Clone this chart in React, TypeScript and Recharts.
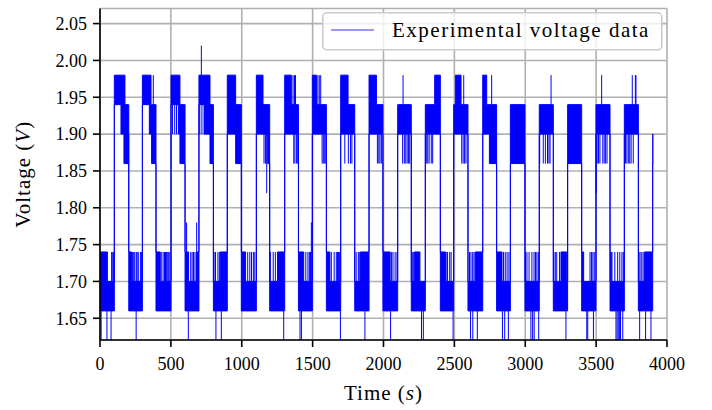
import React from 'react';
import { ComposedChart, Area, Line, XAxis, YAxis, CartesianGrid } from 'recharts';

const X_TICKS = [0, 500, 1000, 1500, 2000, 2500, 3000, 3500, 4000];
const Y_TICKS = [1.65, 1.7, 1.75, 1.8, 1.85, 1.9, 1.95, 2.0, 2.05];
const SERIES_NAME = 'Experimental voltage data';
const END_TIME = 3904;

// [start time (s), lower level (V), upper level (V)]: the reading toggles rapidly
// between the two quantised levels from this start until the next start.
const segments: [number, number, number][] = [
  [0, 1.66, 1.74], [52, 1.66, 1.70],
  [101, 1.94, 1.98], [148, 1.90, 1.98], [169, 1.86, 1.98], [176, 1.86, 1.94], [200, 1.90, 1.94],
  [203, 1.66, 1.74], [222, 1.66, 1.70],
  [299, 1.94, 1.98], [348, 1.90, 1.98], [360, 1.90, 1.94], [364, 1.86, 1.94],
  [395, 1.66, 1.74], [425, 1.66, 1.70],
  [501, 1.94, 1.98], [553, 1.90, 1.98], [564, 1.86, 1.94],
  [600, 1.66, 1.74], [625, 1.66, 1.70], [680, 1.66, 1.74],
  [698, 1.94, 1.98], [734, 1.90, 1.98], [776, 1.86, 1.94],
  [800, 1.66, 1.70], [848, 1.66, 1.74],
  [898, 1.90, 1.98], [957, 1.86, 1.94],
  [997, 1.66, 1.74], [1027, 1.66, 1.70],
  [1103, 1.90, 1.98], [1150, 1.90, 1.94], [1185, 1.86, 1.94],
  [1197, 1.66, 1.70], [1252, 1.66, 1.74],
  [1303, 1.90, 1.98], [1347, 1.90, 1.94],
  [1400, 1.66, 1.74], [1437, 1.66, 1.70],
  [1498, 1.90, 1.98], [1527, 1.90, 1.94],
  [1597, 1.66, 1.74], [1622, 1.66, 1.70],
  [1698, 1.90, 1.98], [1750, 1.90, 1.94],
  [1797, 1.66, 1.70], [1837, 1.66, 1.74],
  [1898, 1.90, 1.98], [1950, 1.90, 1.94],
  [1996, 1.66, 1.74], [2047, 1.66, 1.70],
  [2100, 1.90, 1.94],
  [2196, 1.66, 1.70], [2217, 1.66, 1.74], [2257, 1.66, 1.70],
  [2295, 1.90, 1.94], [2361, 1.90, 1.98],
  [2401, 1.66, 1.74], [2437, 1.66, 1.70],
  [2495, 1.90, 1.94], [2507, 1.90, 1.98], [2547, 1.90, 1.94],
  [2596, 1.66, 1.70], [2647, 1.66, 1.74],
  [2700, 1.90, 1.98], [2728, 1.90, 1.94], [2747, 1.86, 1.94],
  [2798, 1.66, 1.74], [2836, 1.66, 1.70],
  [2895, 1.86, 1.94],
  [2998, 1.66, 1.70],
  [3099, 1.90, 1.94],
  [3198, 1.66, 1.70], [3252, 1.66, 1.74], [3292, 1.66, 1.70],
  [3299, 1.86, 1.94],
  [3398, 1.66, 1.74], [3412, 1.66, 1.70],
  [3499, 1.90, 1.94],
  [3598, 1.66, 1.70],
  [3699, 1.90, 1.94],
  [3798, 1.66, 1.70], [3842, 1.66, 1.74],
  [3899, 1.86, 1.90],
];

// Isolated excursions during the low phases [time (s), level (V)]
const lowPhaseSpikes: [number, number][] = [
  [8, 1.62], [49, 1.62], [78, 1.62], [82, 1.74], [90, 1.74], [96, 1.74],
  [230, 1.74], [238, 1.74], [245, 1.74], [255, 1.62], [256, 1.74], [262, 1.74], [270, 1.74], [285, 1.74], [292, 1.74],
  [432, 1.74], [445, 1.74], [455, 1.74], [462, 1.74], [470, 1.74], [478, 1.74], [485, 1.74], [493, 1.74],
  [611, 1.78], [623, 1.62], [640, 1.74], [650, 1.74], [660, 1.74], [670, 1.74], [682, 1.78],
  [805, 1.74], [815, 1.74], [818, 1.62], [832, 1.74], [842, 1.74], [856, 1.62],
  [1042, 1.74], [1057, 1.74], [1069, 1.74], [1082, 1.74], [1092, 1.74],
  [1202, 1.74], [1222, 1.74], [1237, 1.74], [1296, 1.62],
  [1411, 1.62], [1421, 1.62], [1452, 1.74], [1467, 1.74], [1477, 1.74], [1485, 1.74], [1491, 1.78],
  [1632, 1.74], [1652, 1.74], [1667, 1.74], [1675, 1.74], [1682, 1.74], [1689, 1.74], [1696, 1.62],
  [1807, 1.74], [1822, 1.74], [1829, 1.74], [1869, 1.62],
  [2050, 1.62], [2057, 1.74], [2067, 1.74], [2082, 1.74], [2095, 1.74],
  [2203, 1.74], [2210, 1.74], [2268, 1.62], [2281, 1.62],
  [2442, 1.74], [2452, 1.74], [2467, 1.74], [2477, 1.74], [2491, 1.62],
  [2607, 1.74], [2614, 1.62], [2617, 1.74], [2629, 1.74], [2630, 1.62], [2639, 1.74], [2662, 1.62],
  [2839, 1.62], [2847, 1.74], [2855, 1.62], [2859, 1.74], [2872, 1.74], [2881, 1.62], [2885, 1.74],
  [3002, 1.74], [3012, 1.74], [3027, 1.74], [3040, 1.62], [3047, 1.74], [3052, 1.62], [3062, 1.74], [3063, 1.62], [3072, 1.74], [3082, 1.74], [3092, 1.74], [3095, 1.62],
  [3202, 1.74], [3212, 1.74], [3222, 1.74], [3242, 1.74], [3287, 1.62],
  [3434, 1.62], [3441, 1.62], [3457, 1.74], [3467, 1.74], [3477, 1.74], [3481, 1.62], [3487, 1.74],
  [3602, 1.74], [3607, 1.74], [3612, 1.74], [3632, 1.74], [3640, 1.62], [3648, 1.62], [3652, 1.74], [3656, 1.62], [3664, 1.62], [3667, 1.74], [3672, 1.62], [3682, 1.74], [3688, 1.62], [3692, 1.74],
  [3802, 1.74], [3807, 1.62], [3810, 1.74], [3822, 1.74], [3832, 1.74], [3849, 1.62], [3887, 1.62],
];

// Isolated excursions during the high phases [time (s), level (V)]
const highPhaseSpikes: [number, number][] = [
  [376, 1.98],
  [512, 1.90], [527, 1.90], [540, 1.90],
  [704, 1.90], [715, 2.02], [719, 1.90],
  [1157, 1.86], [1167, 1.86], [1176, 1.82], [1180, 1.86],
  [1352, 1.98], [1362, 1.98], [1367, 1.86], [1372, 1.98], [1375, 1.86], [1379, 1.98], [1387, 1.86], [1395, 1.86],
  [1537, 1.98], [1547, 1.98], [1557, 1.98], [1567, 1.86], [1575, 1.86], [1582, 1.86], [1589, 1.86],
  [1727, 1.86], [1752, 1.86], [1767, 1.86], [1777, 1.86],
  [1957, 1.86], [1967, 1.86], [1975, 1.86], [1985, 1.86],
  [2135, 1.86], [2138, 1.98], [2147, 1.86], [2157, 1.86], [2167, 1.86], [2177, 1.86], [2185, 1.86],
  [2302, 1.86], [2312, 1.86], [2322, 1.86], [2337, 1.86], [2347, 1.86],
  [2552, 1.86], [2562, 1.86], [2566, 1.98], [2572, 1.86], [2582, 1.86],
  [2763, 1.98],
  [3102, 1.86], [3127, 1.86], [3142, 1.86], [3157, 1.86], [3167, 1.86], [3175, 1.86], [3182, 1.98],
  [3501, 1.82], [3507, 1.86], [3517, 1.86], [3527, 1.86], [3539, 1.98], [3547, 1.86], [3557, 1.86], [3567, 1.86], [3577, 1.86],
  [3707, 1.86], [3717, 1.86], [3727, 1.86], [3737, 1.86], [3747, 1.86], [3755, 1.98], [3762, 1.86], [3777, 1.98], [3781, 1.98],
];

const FONT = "'Liberation Serif', 'DejaVu Serif', 'Times New Roman', serif";
const BLUE = '#0000ff';

const bandData = [
  ...segments.map(([t, lo, hi]) => ({ t, band: [lo, hi] })),
  { t: END_TIME, band: [segments[segments.length - 1][1], segments[segments.length - 1][2]] },
];

function segmentAt(t: number) {
  let idx = 0;
  for (let i = 0; i < segments.length; i++) {
    if (segments[i][0] <= t) idx = i;
  }
  return segments[idx];
}

const spikeData: { t: number; v: number | null }[] = [];
[...lowPhaseSpikes, ...highPhaseSpikes]
  .sort((a, b) => a[0] - b[0])
  .forEach(([t, level]) => {
    const seg = segmentAt(t);
    const from = level > seg[2] ? seg[2] : level < seg[1] ? seg[1] : null;
    if (from === null) return;
    spikeData.push({ t, v: from }, { t, v: level }, { t, v: null });
  });

const XTitle = (props: any) => {
  const vb = props.viewBox || { x: 100, y: 340, width: 567, height: 70 };
  return (
    <text x={vb.x + vb.width / 2} y={vb.y + 60} textAnchor="middle" style={{ fontFamily: FONT }} fontSize={21} fill="#000" letterSpacing={1}>
      Time (<tspan fontStyle="italic">s</tspan>)
    </text>
  );
};

const YTitle = (props: any) => {
  const vb = props.viewBox || { x: 0, y: 8.5, width: 100, height: 331.5 };
  const cx = 30;
  const cy = vb.y + vb.height / 2;
  return (
    <text x={cx} y={cy} transform={`rotate(-90, ${cx}, ${cy})`} textAnchor="middle" style={{ fontFamily: FONT }} fontSize={21} fill="#000" letterSpacing={1}>
      Voltage (<tspan fontStyle="italic">V</tspan>)
    </text>
  );
};

const tickStyle = { fontSize: 18, fill: '#000', style: { fontFamily: FONT } };
const spineStyle = { stroke: '#000', strokeWidth: 1.6 };

export default function App() {
  return (
    <div style={{ position: 'absolute', left: 0, top: 0, width: 712, height: 410, background: '#fff', fontFamily: FONT }}>
      <ComposedChart width={712} height={410} margin={{ top: 8.5, right: 45, bottom: 0, left: 0 }} style={{ fontFamily: FONT }}>
        <CartesianGrid stroke="#b0b0b0" strokeWidth={1.6} />
        <Area
          data={bandData}
          dataKey="band"
          type="stepAfter"
          stroke={BLUE}
          strokeWidth={1}
          fill={BLUE}
          fillOpacity={1}
          dot={false}
          activeDot={false}
          isAnimationActive={false}
          name={SERIES_NAME}
        />
        <Line
          data={spikeData}
          dataKey="v"
          stroke={BLUE}
          strokeWidth={1}
          dot={false}
          activeDot={false}
          connectNulls={false}
          isAnimationActive={false}
          legendType="none"
        />
        <XAxis
          dataKey="t"
          type="number"
          domain={[0, 4000]}
          ticks={X_TICKS}
          allowDataOverflow
          height={70}
          tick={tickStyle}
          tickSize={7}
          tickMargin={10}
          axisLine={spineStyle}
          tickLine={spineStyle}
          label={<XTitle />}
        />
        <YAxis
          type="number"
          domain={[1.6205, 2.0705]}
          ticks={Y_TICKS}
          allowDataOverflow
          width={100}
          tick={tickStyle}
          tickFormatter={(v: number) => v.toFixed(2)}
          tickSize={7}
          tickMargin={6}
          axisLine={spineStyle}
          tickLine={spineStyle}
          label={<YTitle />}
        />
        <XAxis xAxisId="top" orientation="top" type="number" domain={[0, 4000]} height={0} tick={false} tickLine={false} axisLine={spineStyle} />
        <YAxis yAxisId="right" orientation="right" type="number" domain={[1.6205, 2.0705]} width={0} tick={false} tickLine={false} axisLine={spineStyle} />
      </ComposedChart>
      <svg style={{ position: 'absolute', left: 322, top: 12, overflow: 'visible' }} width={341} height={39}>
        <rect x={0.8} y={0.8} width={339} height={37} rx={4} ry={4} fill="#ffffff" fillOpacity={0.8} stroke="#cccccc" strokeWidth={1.6} />
        <line x1={9} y1={18} x2={52} y2={18} stroke={BLUE} strokeOpacity={0.55} strokeWidth={1.5} />
        <text x={70} y={25} style={{ fontFamily: FONT }} fontSize={21} fill="#000" letterSpacing={1.5}>{SERIES_NAME}</text>
      </svg>
    </div>
  );
}
